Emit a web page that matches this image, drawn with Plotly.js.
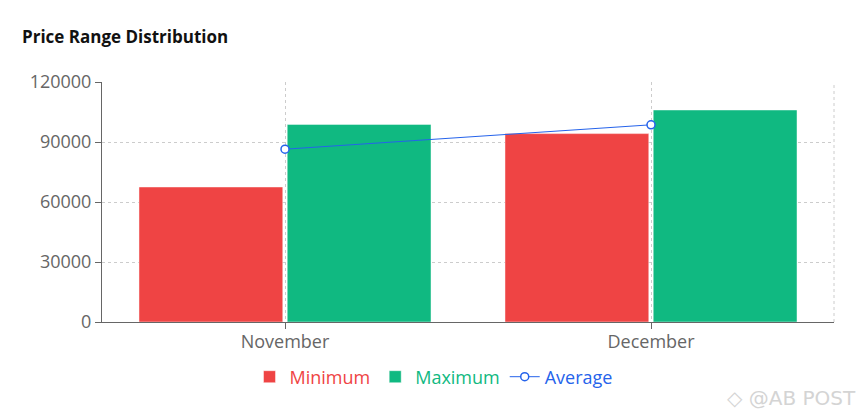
<!DOCTYPE html>
<html>
<head>
<meta charset="utf-8">
<script src="https://cdn.plot.ly/plotly-3.0.1.min.js"></script>
<style>
  html, body { margin: 0; padding: 0; background: #fff; }
  #chart { width: 867px; height: 419px; }
</style>
</head>
<body>
<div id="chart"></div>
<script>
const months = ["November", "December"];
const minimumValues = [67500, 94200];
const maximumValues = [98800, 106000];
const averageValues = [86400, 98600];
const yTicks = [0, 30000, 60000, 90000, 120000];

const RED = "#ef4444", GREEN = "#10b981", BLUE = "#2563eb";
const FONT = "Open Sans, Noto Sans, sans-serif";

const traces = [
  {
    type: "bar", x: months, y: minimumValues,
    name: '<span style="color:' + RED + '">Minimum</span>',
    marker: { color: RED, line: { color: "rgba(255,255,255,0.45)", width: 1 } },
    hoverinfo: "y"
  },
  {
    type: "bar", x: months, y: maximumValues,
    name: '<span style="color:' + GREEN + '">Maximum</span>',
    marker: { color: GREEN, line: { color: "rgba(255,255,255,0.45)", width: 1 } },
    hoverinfo: "y"
  },
  {
    type: "scatter", mode: "lines+markers", x: months, y: averageValues,
    name: '<span style="color:' + BLUE + '">Average</span>',
    line: { color: BLUE, width: 1 },
    marker: { symbol: "circle", size: 8, color: "#fff", line: { color: BLUE, width: 1.5 } },
    hoverinfo: "y"
  }
];

const layout = {
  width: 867, height: 419,
  margin: { l: 102, r: 33, t: 82, b: 97, pad: 0 },
  paper_bgcolor: "#fff", plot_bgcolor: "#fff",
  font: { family: FONT, size: 18, color: "#666" },
  title: {
    text: "<b>Price Range Distribution</b>",
    font: { family: FONT, size: 17, color: "#111" },
    x: 22 / 867, xref: "container", xanchor: "left",
    y: 1 - 37 / 419, yref: "container", yanchor: "middle",
    pad: { t: 0, l: 0 }
  },
  barmode: "group",
  bargap: 0.19,
  bargroupgap: 0.03,
  showlegend: true,
  legend: {
    orientation: "h", x: 0.5, xanchor: "center", xref: "container",
    y: 1 - 377 / 419, yanchor: "middle", yref: "container",
    font: { family: FONT, size: 18 },
    itemwidth: 30, traceorder: "normal"
  },
  xaxis: {
    type: "category",
    showline: true, linecolor: "#666", linewidth: 1,
    ticks: "outside", ticklen: 6, tickcolor: "#666",
    ticklabelstandoff: -3,
    showgrid: true, gridcolor: "#ccc", griddash: "3px,3px", gridwidth: 1,
    tickfont: { family: FONT, size: 18, color: "#666" },
    fixedrange: true
  },
  yaxis: {
    range: [0, 120000],
    tickvals: yTicks,
    ticktext: yTicks.map(String),
    showline: true, linecolor: "#666", linewidth: 1,
    ticks: "outside", ticklen: 6, tickcolor: "#666",
    showgrid: true, gridcolor: "#ccc", griddash: "3px,3px", gridwidth: 1,
    zeroline: false,
    tickfont: { family: FONT, size: 18, color: "#666" },
    fixedrange: true
  },
  shapes: [
    { type: "line", xref: "paper", yref: "paper", x0: 1, x1: 1, y0: 0, y1: 1,
      line: { color: "#ccc", width: 1, dash: "3px,3px" }, layer: "below" }
  ],
  annotations: [
    { text: "◇ @AB POST", xref: "paper", yref: "paper", x: (858 - 102) / 732, y: (322 - 398) / 240,
      xanchor: "right", yanchor: "middle", showarrow: false,
      font: { family: "DejaVu Sans, sans-serif", size: 20, color: "#d4d4d4" } }
  ]
};

Plotly.newPlot("chart", traces, layout, { displayModeBar: false, staticPlot: true });
</script>
</body>
</html>
